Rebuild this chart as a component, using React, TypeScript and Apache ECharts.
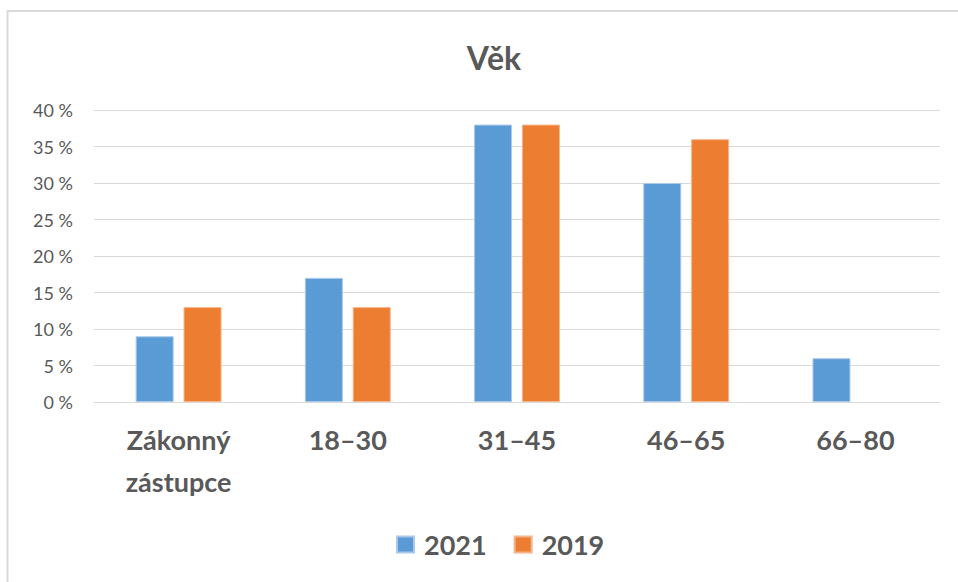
import React, { useEffect, useRef } from "react";
import * as echarts from "echarts";

const categories = ["Zákonný\nzástupce", "18–30", "31–45", "46–65", "66–80"];
const series2021 = [9, 17, 38, 30, 6];
const series2019 = [13, 13, 38, 36, null];
const seriesNames = ["2021", "2019"];

const FONT = "Lato, 'Open Sans', sans-serif";
const GRAY = "#595959";

export default function App() {
  const ref = useRef<HTMLDivElement>(null);
  useEffect(() => {
    if (!ref.current) return;
    const chart = echarts.init(ref.current, undefined, { renderer: "svg" });
    chart.setOption({
      animation: false,
      backgroundColor: "#ffffff",
      title: {
        text: "Věk",
        left: 489,
        textAlign: "center",
        top: 36,
        textStyle: { fontFamily: FONT, fontSize: 32, fontWeight: "bold", color: GRAY },
      },
      graphic: [
        {
          type: "rect",
          shape: { x: 7.5, y: 11, width: 980, height: 600 },
          style: { fill: "none", stroke: "#d9d9d9", lineWidth: 2 },
          silent: true,
        },
      ],
      legend: {
        data: seriesNames,
        bottom: 19,
        left: 391,
        itemWidth: 17,
        itemHeight: 16,
        itemGap: 27,
        icon: "rect",
        textStyle: {
          fontFamily: FONT,
          fontSize: 27,
          fontWeight: "bold",
          color: GRAY,
          padding: [0, 0, 0, 5],
        },
      },
      grid: { left: 94, right: 18, top: 110, bottom: 180, containLabel: false },
      xAxis: {
        type: "category",
        data: categories,
        axisLine: { show: true, lineStyle: { color: "#d9d9d9", width: 1 } },
        axisTick: { show: false },
        axisLabel: {
          fontFamily: FONT,
          fontSize: 27,
          fontWeight: "bold",
          color: GRAY,
          margin: 16,
          lineHeight: 42,
          interval: 0,
        },
      },
      yAxis: {
        type: "value",
        min: 0,
        max: 40,
        interval: 5,
        axisLine: { show: false },
        axisTick: { show: false },
        splitLine: { lineStyle: { color: "#d9d9d9", width: 1 } },
        axisLabel: {
          fontFamily: FONT,
          fontSize: 18,
          color: GRAY,
          margin: 21,
          formatter: (v: number) => `${v} %`,
        },
      },
      series: [
        {
          name: seriesNames[0],
          type: "bar",
          data: series2021,
          barWidth: 38,
          barGap: "26%",
          itemStyle: { color: "#5B9BD5", borderColor: "#a9c8ea", borderWidth: 1 },
        },
        {
          name: seriesNames[1],
          type: "bar",
          data: series2019,
          barWidth: 38,
          barGap: "26%",
          itemStyle: { color: "#ED7D31", borderColor: "#f5b48a", borderWidth: 1 },
        },
      ],
    });
    return () => chart.dispose();
  }, []);
  return (
    <div
      ref={ref}
      style={{ position: "fixed", left: 0, top: 0, width: 958, height: 582 }}
    />
  );
}
